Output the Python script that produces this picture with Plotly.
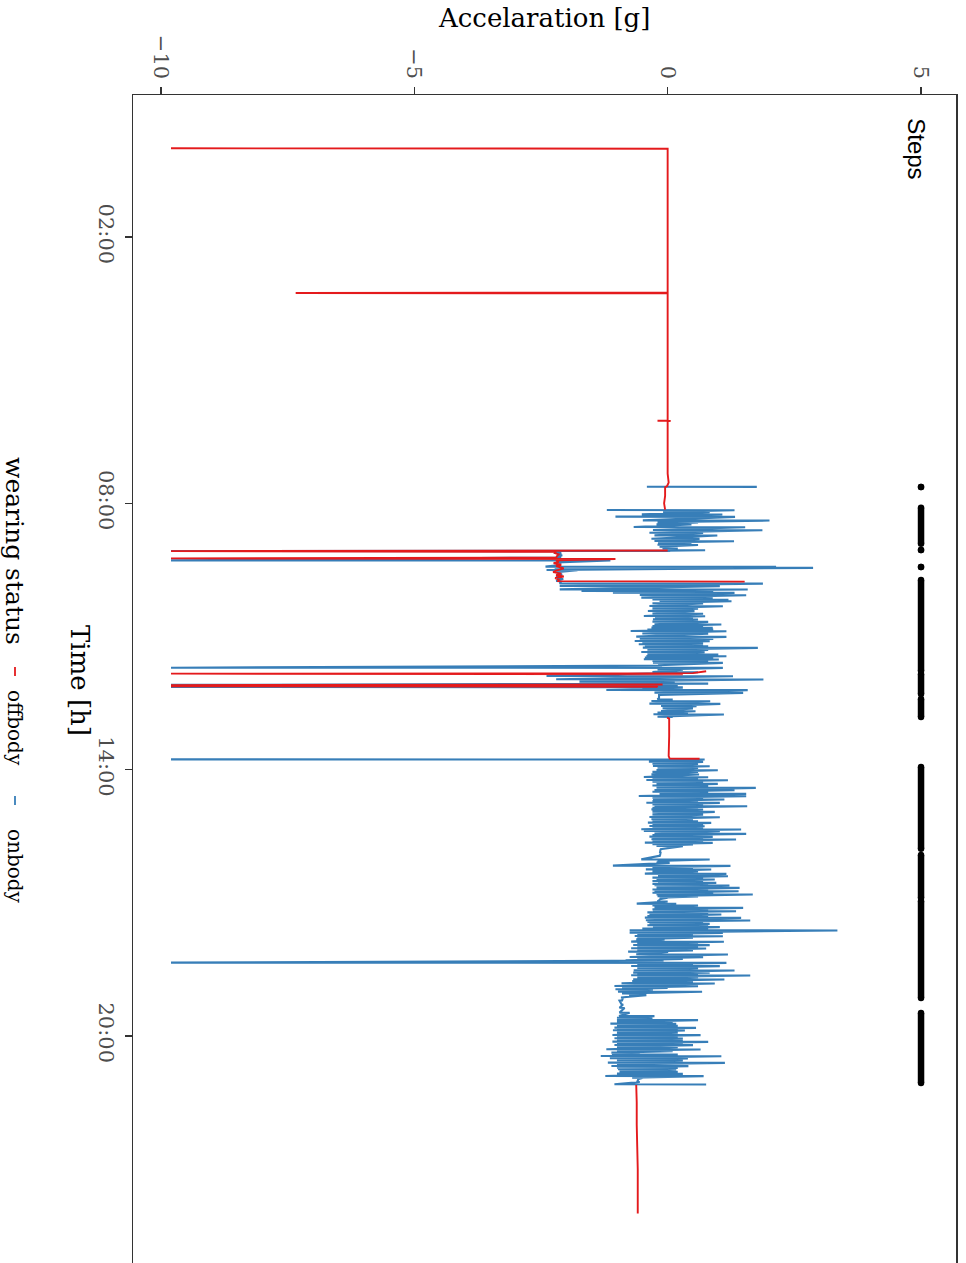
import plotly.graph_objects as go

# ---------------- axis ticks ----------------
TIME_TICKS = [120, 480, 840, 1200]          # minutes since 00:00
TIME_LABELS = ["02:00", "08:00", "14:00", "20:00"]
ACC_TICKS = [-10, -5, 0, 5]
ACC_LABELS = ["\u221210", "\u22125", "0", "5"]

# ---------------- offbody (red) runs: time [min], acceleration [g] ----------------
off1_t = [0.0, 0.6, 100.0, 195.2, 195.7, 196.2, 300.0, 368.0, 368.3, 368.6, 369.0, 440.0, 452.0, 456.6, 458.2, 470.0, 480.0, 488.5]
off1_g = [-9.80, 0.00, 0.00, 0.00, -7.34, 0.00, 0.00, 0.00, -0.20, 0.06, 0.00, 0.00, 0.02, -0.01, -0.05, -0.05, -0.07, -0.05]

off2_t = [543.8, 544.6, 545.5, 547.0, 549.0, 551.0, 553.5, 554.4, 555.2, 557.0, 559.0, 561.0, 563.0, 565.0, 568.0, 571.0, 573.0, 575.0, 577.0, 579.0, 581.0, 583.0, 585.2, 585.9]
off2_g = [0.00, -9.80, -2.20, -2.24, -2.15, -2.18, -2.20, -9.80, -1.03, -2.20, -2.15, -2.25, -2.10, -2.20, -2.05, -2.20, -2.26, -2.10, -2.20, -2.05, -2.22, -2.15, -2.16, 1.52]

off3_t = [707.0, 709.6, 710.3, 711.0]
off3_g = [0.76, 0.50, -9.80, 0.30]

off4_t = [725.0, 725.8, 726.5, 727.3, 728.0, 728.8]
off4_g = [-0.10, -9.80, -0.62, -9.80, -0.21, -0.20]

off5_t = [769.7, 771.0, 795.0, 821.6, 825.0, 825.3]
off5_g = [-0.01, 0.03, 0.03, 0.02, 0.04, 0.63]

off6_t = [1266.3, 1290.0, 1320.0, 1350.0, 1380.0, 1410.0, 1440.2]
off6_g = [-0.62, -0.61, -0.61, -0.60, -0.59, -0.59, -0.59]

# ---------------- onbody (blue) runs: time [min], stroke low / high [g] ----------------
on1_t = [457.5]
on1_lo = [-0.41]
on1_hi = [1.76]

on2_t = [489.0, 491.7, 494.9, 498.0, 503.0, 505.5, 508.4, 512.0, 516.1, 519.7,
         523.3, 527.8, 530.9, 533.2, 536.0, 538.6, 541.0, 543.1, 544.0, 544.4,
         547.0, 550.0, 553.0, 557.1, 560.0, 563.0, 565.6, 567.0, 570.1, 573.0,
         576.0, 579.0, 582.0, 585.0, 588.2, 591.8, 596.3, 598.5, 600.8, 603.9,
         607.5, 610.0, 612.0, 615.0, 618.8, 622.0, 625.5, 629.0, 632.3, 634.5,
         636.8, 640.0, 643.6, 646.0, 648.1, 650.5, 652.6, 656.0, 660.2, 663.0,
         666.1, 668.5, 670.6, 673.0, 675.1, 678.0, 681.0, 684.0, 686.4, 688.5,
         690.9, 693.0, 695.4, 699.0, 702.2, 704.5, 708.0, 713.4, 717.9, 721.1,
         723.5, 725.5, 728.3, 730.0, 732.3, 735.9, 739.1, 742.7, 745.0, 747.2,
         750.8, 754.0, 757.1, 760.7, 763.0, 765.2, 768.5]
on2_lo = [-1.20, -0.09, -0.51, -1.03, -0.49, -0.20, -0.22, -0.67, -0.29, -0.36,
          -0.26, -0.32, -0.26, -0.19, -0.20, -0.16, -0.10, -0.03, -0.05, -9.80,
          -2.22, -2.18, -2.20, -9.80, -2.20, -2.20, -2.41, -2.23, -2.39, -2.20,
          -2.18, -2.20, -2.18, -2.20, -2.13, -2.13, -2.13, -1.70, -1.08, -0.55,
          -0.52, -0.30, -0.16, -0.30, -0.36, -0.30, -0.39, -0.30, -0.47, -0.25,
          -0.29, -0.30, -0.26, -0.30, -0.32, -0.40, -0.73, -0.50, -0.62, -0.55,
          -0.65, -0.50, -0.57, -0.45, -0.49, -0.40, -0.52, -0.40, -0.42, -0.45,
          -0.47, -0.30, -0.29, -0.19, -9.80, -0.20, -0.30, -2.39, -2.20, -1.74,
          -0.50, -9.80, -9.80, -0.50, -1.21, -0.26, -0.17, -0.17, -0.20, -0.32,
          -0.36, -0.13, -0.10, -0.13, -0.20, -0.28, -0.20]
on2_hi = [1.32, 0.83, 1.08, 1.33, 2.01, 0.60, 0.47, 1.53, 1.87, 0.70,
          0.98, 0.63, 1.31, 0.47, 0.60, 0.01, 0.20, 0.74, 0.05, -2.20,
          -2.10, -2.08, -2.10, -1.13, -2.10, -2.12, 2.14, 2.87, -1.78, -2.10,
          -2.08, -2.10, -2.06, -2.10, 1.88, 1.03, 1.58, 0.90, 1.32, 1.55,
          0.89, 1.20, 1.26, 0.70, 1.09, 0.60, 0.53, 0.70, 0.74, 0.50,
          0.60, 0.80, 1.06, 0.70, 0.89, 0.90, 1.16, 0.80, 1.16, 0.90,
          0.83, 0.70, 0.70, 0.80, 1.78, 0.80, 0.73, 1.00, 1.16, 0.90,
          1.01, 0.80, 1.09, -0.11, 1.09, 0.30, 0.60, 1.29, 1.89, 0.14,
          0.80, 0.20, 0.30, 0.30, 1.58, 1.49, -0.17, -0.17, 0.10, 0.84,
          1.04, 0.57, 0.50, 0.55, 0.40, 1.11, 0.10]

on3_t = [826.1, 829.2, 832.0, 835.1, 837.5, 840.5, 843.0, 846.4, 850.0, 852.0,
         854.0, 856.5, 859.0, 861.5, 864.4, 867.5, 870.0, 872.5, 875.6, 878.0,
         880.1, 882.5, 884.7, 887.0, 889.2, 891.5, 893.7, 896.8, 900.5, 904.0,
         907.2, 909.5, 911.7, 914.0, 916.2, 918.5, 920.7, 923.0, 926.6, 928.5,
         930.6, 932.5, 934.2, 936.5, 938.7, 941.0, 943.2, 947.7, 952.0, 956.0,
         961.3, 963.5, 965.8, 969.8, 972.0, 974.8, 977.5, 980.6, 983.8, 986.0,
         988.3, 990.5, 992.8, 994.5, 996.4, 999.6, 1002.0, 1004.1, 1006.5, 1008.6,
         1011.0, 1013.0, 1015.3, 1018.0, 1021.2, 1023.5, 1026.6, 1029.0, 1031.1, 1033.0,
         1035.6, 1038.0, 1040.1, 1043.7, 1046.0, 1048.2, 1050.5, 1052.7, 1055.0, 1057.2,
         1060.4, 1062.5, 1064.9, 1067.0, 1069.4, 1072.5, 1075.0, 1077.0, 1079.0, 1081.5,
         1084.0, 1086.1, 1089.7, 1093.3, 1095.5, 1097.8, 1100.9, 1103.0, 1105.4, 1108.0,
         1111.3, 1114.4, 1116.0, 1118.0, 1120.5, 1123.5, 1126.0, 1128.9, 1132.5, 1135.0,
         1137.0, 1140.1, 1142.5, 1144.6, 1148.0, 1152.0, 1157.2, 1162.0, 1168.5, 1173.0,
         1175.5, 1178.4, 1181.0, 1183.4, 1186.0, 1188.8, 1190.5, 1192.4, 1195.5, 1198.7,
         1201.0, 1203.2, 1205.5, 1207.7, 1210.0, 1212.2, 1215.0, 1218.1, 1220.5, 1222.6,
         1225.0, 1227.1, 1230.2, 1233.0, 1236.1, 1238.5, 1240.6, 1243.0, 1245.1, 1248.3,
         1251.0, 1254.1, 1256.5, 1258.6, 1262.0, 1265.4]
on3_lo = [-9.80, -0.37, -0.30, -0.29, -0.20, -0.22, -0.30, -0.32, -0.47, -0.30,
          -0.42, -0.30, -0.22, -0.30, -0.22, -0.26, -0.30, -0.16, -0.57, -0.30,
          -0.29, -0.30, -0.42, -0.30, -0.26, -0.30, -0.32, -0.30, -0.30, -0.36,
          -0.32, -0.30, -0.39, -0.30, -0.36, -0.30, -0.52, -0.47, -0.26, -0.30,
          -0.36, -0.30, -0.32, -0.30, -0.45, -0.30, -0.22, -0.15, -0.15, -0.15,
          -0.52, -0.20, -0.22, -1.08, -0.30, -0.43, -0.30, -0.45, -0.19, -0.30,
          -0.22, -0.30, -0.19, -0.30, -0.26, -0.22, -0.30, -0.26, -0.30, -0.22,
          -0.20, -0.16, -0.16, -0.20, -0.61, -0.30, -0.26, -0.30, -0.29, -0.40,
          -0.36, -0.40, -0.45, -0.43, -0.40, -0.36, -0.40, -0.29, -0.50, -0.75,
          -0.75, -0.60, -0.65, -0.60, -0.62, -0.72, -0.60, -0.68, -0.60, -0.72,
          -0.60, -0.78, -0.62, -0.75, -0.60, -0.83, -9.80, -0.60, -0.72, -0.60,
          -0.67, -0.68, -0.60, -0.72, -0.60, -0.68, -0.70, -0.91, -1.05, -0.90,
          -1.03, -0.98, -0.90, -0.76, -0.92, -0.90, -0.91, -0.95, -0.95, -0.96,
          -1.00, -1.00, -1.00, -1.13, -1.00, -1.05, -1.00, -1.08, -1.00, -1.09,
          -1.00, -1.05, -1.00, -1.09, -1.00, -1.05, -1.00, -1.21, -1.00, -1.11,
          -1.10, -1.32, -1.14, -1.00, -1.18, -1.00, -1.11, -1.00, -0.98, -0.95,
          -1.00, -1.23, -0.70, -0.59, -0.60, -1.05]
on3_hi = [0.73, 0.70, 0.60, 0.83, 0.60, 0.99, 0.60, 0.62, 0.80, 0.60,
          1.19, 0.70, 0.99, 0.80, 1.74, 1.32, 0.80, 1.55, 1.55, 0.70,
          1.12, 0.60, 1.03, 0.70, 1.57, 0.60, 0.70, 0.93, 0.70, 1.03,
          0.50, 0.60, 0.86, 0.70, 0.73, 0.70, 1.45, 1.03, 1.55, 0.80,
          0.89, 0.70, 1.35, 0.70, 0.89, 0.50, 0.30, -0.14, -0.14, -0.14,
          0.83, 0.00, 0.04, 1.24, 0.50, 0.86, 0.60, 1.16, 1.19, 0.70,
          0.93, 0.70, 0.96, 0.80, 1.22, 1.42, 0.80, 1.40, 0.90, 1.68,
          0.60, 0.00, -0.15, 0.00, 0.17, 0.60, 1.49, 0.80, 1.35, 0.80,
          1.06, 0.80, 1.45, 1.63, 0.70, 0.83, 0.80, 1.03, 0.80, 3.35,
          1.09, 0.50, 1.09, 0.50, -0.06, 1.11, 0.60, 0.83, 0.60, 0.76,
          0.50, 0.01, 1.19, 0.70, 0.30, -0.08, 1.16, 0.50, 1.03, 0.60,
          1.32, 0.83, 0.60, 1.63, 0.60, 1.12, 0.50, 0.93, 0.60, 0.00,
          -0.29, 0.68, -0.50, -0.42, -0.88, -0.95, -0.88, -0.85, -0.75, -0.26,
          -0.30, 0.60, 0.10, 0.17, 0.20, 0.56, 0.20, 0.34, 0.20, 0.65,
          0.20, 0.30, 0.30, 0.80, 0.30, 0.50, 0.20, 0.65, 0.10, -0.55,
          0.20, 1.06, 0.40, 0.30, 1.13, 0.30, 0.41, 0.20, 0.17, 0.20,
          0.30, 0.71, -0.50, -0.58, -0.55, 0.76]

# ---------------- steps: walking periods (start, end) in minutes, drawn at 5 g ----------------
steps_start = [458.0, 485.9, 543.1, 566.1, 583.7, 710.7, 744.5, 836.4, 955.4, 1017.6, 1168.9]
steps_end = [458.0, 534.6, 543.1, 566.1, 706.7, 737.7, 768.9, 947.1, 1013.5, 1148.7, 1263.6]
STEPS_LEVEL = 5

RED = "#E41A1C"
BLUE = "#377EB8"
SERIF = "DejaVu Serif"

# ---------------- build paths ----------------
def off_path(runs):
    xs, ys = [], []
    for t, g in runs:
        xs += list(g) + [None]
        ys += list(t) + [None]
    return xs, ys


def on_path(runs):
    xs, ys = [], []
    for t, lo, hi in runs:
        for ti, l, h in zip(t, lo, hi):
            xs += [l, h]
            ys += [ti, ti + 0.3]
        xs.append(None)
        ys.append(None)
    return xs, ys


on_x, on_y = on_path([(on1_t, on1_lo, on1_hi), (on2_t, on2_lo, on2_hi), (on3_t, on3_lo, on3_hi)])
off_x, off_y = off_path([(off1_t, off1_g), (off2_t, off2_g), (off3_t, off3_g),
                         (off4_t, off4_g), (off5_t, off5_g), (off6_t, off6_g)])

st_x, st_y = [], []
for s, e in zip(steps_start, steps_end):
    st_x += [STEPS_LEVEL, STEPS_LEVEL, None]
    st_y += [s, e, None]

fig = go.Figure()
fig.add_trace(go.Scatter(x=on_x, y=on_y, mode="lines", name="onbody",
                         line=dict(color=BLUE, width=2.1, simplify=False),
                         hoverinfo="skip", showlegend=False))
fig.add_trace(go.Scatter(x=off_x, y=off_y, mode="lines", name="offbody",
                         line=dict(color=RED, width=1.9, simplify=False),
                         hoverinfo="skip", showlegend=False))
fig.add_trace(go.Scatter(x=st_x, y=st_y, mode="lines+markers", name="Steps",
                         line=dict(color="black", width=6.5),
                         marker=dict(color="black", size=6.5),
                         hoverinfo="skip", showlegend=False))

W, H = 966, 1263
ML, MR, MT, MB = 133, 10, 95, 0
PW, PH = W - ML - MR, H - MT - MB


def px(xp):
    """page x pixel -> paper x"""
    return (xp - ML) / PW


def py(yp):
    """page y pixel -> paper y"""
    return (H - MB - yp) / PH


axis_common = dict(
    ticks="outside", ticklen=7, tickwidth=1.5, tickcolor="#333333",
    showline=True, linecolor="#333333", linewidth=1.5,
    showgrid=False, zeroline=False, tickangle=90,
    tickfont=dict(family=SERIF, size=21, color="#4D4D4D"),
)

fig.update_layout(
    width=W, height=H,
    margin=dict(l=ML, r=MR, t=MT, b=MB),
    paper_bgcolor="white", plot_bgcolor="white",
    showlegend=False,
    hovermode=False,
    xaxis=dict(range=[-10.55, 5.69], side="top", tickvals=ACC_TICKS, ticktext=ACC_LABELS,
               **axis_common),
    yaxis=dict(range=[1507, -72], tickvals=TIME_TICKS, ticktext=TIME_LABELS, mirror=True,
               **axis_common),
)

annotations = [
    dict(text="Accelaration [g]", xref="paper", yref="paper", x=px(544), y=py(18),
         showarrow=False, xanchor="center", yanchor="middle",
         font=dict(family=SERIF, size=26, color="black")),
    dict(text="Time [h]", xref="paper", yref="paper", x=px(80), y=py(680),
         showarrow=False, xanchor="center", yanchor="middle", textangle=90,
         font=dict(family=SERIF, size=26, color="black")),
    dict(text="Steps", xref="x", yref="y", x=STEPS_LEVEL, y=0, xshift=-4,
         showarrow=False, xanchor="center", yanchor="middle", textangle=90,
         font=dict(family="Liberation Sans", size=24, color="black")),
    dict(text="wearing status", xref="paper", yref="paper", x=px(15), y=py(551),
         showarrow=False, xanchor="center", yanchor="middle", textangle=90,
         font=dict(family=SERIF, size=25, color="black")),
    dict(text="offbody", xref="paper", yref="paper", x=px(15), y=py(728),
         showarrow=False, xanchor="center", yanchor="middle", textangle=90,
         font=dict(family=SERIF, size=20, color="black")),
    dict(text="onbody", xref="paper", yref="paper", x=px(15), y=py(866),
         showarrow=False, xanchor="center", yanchor="middle", textangle=90,
         font=dict(family=SERIF, size=20, color="black")),
]
fig.update_layout(annotations=annotations)

fig.update_layout(shapes=[
    dict(type="line", xref="paper", yref="paper", x0=px(15), x1=px(15), y0=py(667), y1=py(676),
         line=dict(color=RED, width=1.8)),
    dict(type="line", xref="paper", yref="paper", x0=px(15), x1=px(15), y0=py(796), y1=py(805),
         line=dict(color=BLUE, width=1.8)),
])

# remove the page's default body margin so the figure sits at the window's top-left corner
fig.write_html("out.html",
               config={"displayModeBar": False, "staticPlot": True},
               post_script="document.body.style.margin='0';document.body.style.overflow='hidden';")
